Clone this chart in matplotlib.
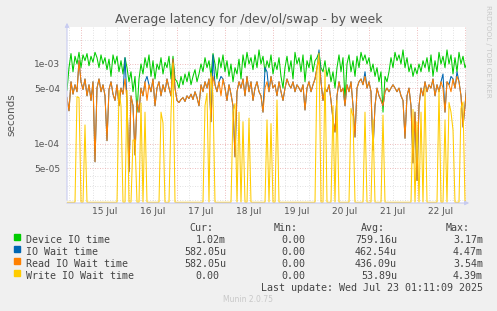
import numpy as np
import pandas as pd
import matplotlib
matplotlib.use("Agg")
import matplotlib.pyplot as plt

# hourly samples from 14 Jul 17:00, values in microseconds
start = "2025-07-14 17:00"
device_io = [
    470, 900, 1350, 800, 1250, 1000, 1400, 900, 1300, 1100,
    1350, 950, 1250, 1050, 1400, 1200, 900, 1300, 1000, 1200,
    850, 1150, 700, 1300, 1000, 1250, 800, 1100, 750, 1200,
    900, 600, 800, 450, 700, 250, 650, 1000, 750, 1200,
    900, 1300, 700, 1100, 650, 1000, 850, 1200, 750, 1050,
    900, 1250, 650, 1250, 650, 600, 500, 700, 550, 750,
    600, 800, 550, 700, 850, 600, 750, 1000, 800, 1200,
    900, 1100, 700, 1350, 1000, 650, 1200, 900, 1300, 800,
    1100, 700, 1000, 600, 900, 750, 1150, 650, 1300, 900,
    1400, 1000, 1200, 850, 1300, 900, 1500, 1000, 1250, 800,
    1100, 900, 1300, 750, 1050, 850, 1200, 700, 500, 900,
    1250, 800, 1100, 650, 1400, 1000, 1200, 800, 1300, 600,
    1100, 900, 1300, 800, 1100, 1200, 1400, 900, 800, 1100,
    700, 900, 600, 800, 500, 900, 1300, 800, 1200, 350,
    1000, 1300, 800, 1100, 700, 1250, 900, 1400, 1100, 1300,
    1000, 1200, 800, 1000, 700, 900, 600, 800, 250, 700,
    600, 800, 1200, 900, 1400, 1100, 1300, 1000, 1500, 900,
    1200, 800, 1000, 700, 900, 750, 1000, 800, 1100, 900,
    1200, 800, 1300, 700, 1100, 800, 1400, 1000, 1250, 900,
    1500, 1000, 1300, 750, 1200, 800, 1400, 1000, 1250, 900,
    1020,
]
io_wait = [
    380, 260, 600, 420, 550, 450, 1100, 600, 480, 650,
    400, 550, 350, 600, 60, 500, 650, 450, 550, 400,
    110, 480, 600, 420, 350, 550, 300, 500, 420, 1200,
    350, 45, 400, 300, 73, 350, 250, 500, 400, 600,
    700, 550, 450, 650, 300, 500, 600, 400, 550, 450,
    650, 500, 400, 1150, 500, 350, 330, 360, 380, 340,
    400, 370, 420, 360, 450, 380, 300, 550, 450, 600,
    500, 650, 190, 1300, 550, 450, 600, 700, 650, 500,
    350, 550, 420, 300, 69, 450, 600, 500, 650, 400,
    700, 450, 600, 350, 500, 600, 450, 400, 250, 900,
    800, 450, 700, 500, 550, 400, 600, 450, 350, 500,
    650, 550, 500, 600, 450, 550, 500, 450, 550, 266,
    500, 600, 450, 550, 650, 900, 1500, 600, 350, 500,
    450, 550, 350, 200, 141, 400, 600, 450, 500, 300,
    550, 450, 600, 300, 122, 500, 600, 650, 550, 800,
    500, 600, 450, 84, 300, 500, 400, 350, 300, 450,
    500, 450, 500, 550, 500, 450, 500, 400, 350, 118,
    400, 500, 300, 58, 250, 35, 300, 500, 400, 600,
    450, 550, 500, 650, 400, 550, 450, 600, 750, 250,
    600, 550, 700, 650, 500, 800, 600, 400, 163, 300,
    582,
]
read_wait = [
    380, 260, 600, 420, 550, 450, 1100, 600, 480, 650,
    400, 550, 350, 600, 60, 500, 650, 450, 550, 400,
    110, 480, 600, 420, 350, 550, 300, 500, 420, 650,
    350, 45, 400, 300, 73, 350, 250, 500, 400, 600,
    350, 550, 450, 650, 300, 500, 600, 400, 550, 450,
    650, 500, 400, 1150, 500, 350, 330, 360, 380, 340,
    400, 370, 420, 360, 450, 380, 300, 550, 450, 600,
    500, 650, 190, 700, 550, 450, 600, 400, 650, 500,
    350, 550, 420, 300, 69, 450, 600, 500, 650, 400,
    700, 450, 600, 350, 500, 600, 450, 400, 250, 500,
    600, 450, 700, 500, 550, 400, 600, 450, 350, 500,
    650, 550, 500, 600, 450, 550, 500, 450, 550, 266,
    500, 600, 450, 550, 650, 900, 1100, 600, 350, 500,
    450, 550, 350, 200, 141, 400, 600, 450, 500, 300,
    550, 450, 600, 300, 122, 500, 600, 650, 550, 700,
    500, 600, 450, 84, 300, 500, 400, 350, 300, 450,
    500, 450, 500, 550, 500, 450, 500, 400, 350, 118,
    400, 500, 300, 58, 250, 35, 300, 500, 400, 600,
    450, 550, 500, 650, 400, 550, 450, 600, 500, 250,
    600, 550, 450, 650, 500, 700, 600, 400, 163, 300,
    582,
]
write_wait = [
    0, 0, 0, 0, 0, 390, 380, 0, 0, 173,
    0, 0, 0, 0, 0, 0, 0, 0, 0, 0,
    0, 0, 0, 0, 0, 0, 470, 300, 0, 0,
    470, 0, 0, 112, 112, 0, 0, 325, 0, 250,
    0, 0, 0, 0, 0, 0, 0, 250, 183, 0,
    0, 0, 240, 1030, 0, 0, 0, 0, 0, 0,
    0, 0, 0, 0, 0, 0, 0, 0, 0, 300,
    430, 0, 770, 400, 0, 0, 0, 0, 0, 0,
    0, 0, 0, 250, 320, 0, 250, 0, 190, 0,
    0, 210, 0, 0, 0, 0, 0, 0, 0, 0,
    200, 0, 180, 0, 0, 355, 0, 0, 0, 0,
    0, 0, 0, 0, 0, 0, 0, 0, 0, 0,
    0, 0, 0, 0, 0, 890, 1370, 0, 0, 840,
    0, 0, 0, 300, 0, 350, 0, 0, 0, 0,
    0, 0, 280, 220, 0, 0, 0, 0, 0, 250,
    0, 0, 0, 200, 0, 0, 0, 0, 230, 0,
    0, 0, 0, 0, 0, 0, 0, 0, 0, 0,
    0, 0, 0, 270, 0, 190, 0, 250, 0, 500,
    0, 0, 0, 0, 0, 0, 470, 0, 0, 200,
    0, 330, 250, 150, 0, 0, 0, 280, 335, 0,
    0,
]

series_names = ["Device IO time", "IO Wait time", "Read IO Wait time", "Write IO Wait time"]
series_colors = ["#00CC00", "#0066B3", "#FF8000", "#FFCC00"]
cur_vals = ["1.02m", "582.05u", "582.05u", "0.00"]
min_vals = ["0.00", "0.00", "0.00", "0.00"]
avg_vals = ["759.16u", "462.54u", "436.09u", "53.89u"]
max_vals = ["3.17m", "4.47m", "3.54m", "4.39m"]

W, H = 497, 311
times = pd.date_range(start, periods=len(device_io), freq="h")
y_lo, y_hi = 1.83e-5, 2.9e-3

fig = plt.figure(figsize=(W / 100, H / 100), dpi=100, facecolor="#F0F0F0")
ax = fig.add_axes([67 / W, 1 - 203 / H, 399 / W, 176 / H])
ax.set_facecolor("white")
ax.set_yscale("log")
ax.set_ylim(y_lo, y_hi)
ax.set_xlim(pd.Timestamp("2025-07-14 17:00"), pd.Timestamp("2025-07-23 00:30"))
for s in ax.spines.values():
    s.set_visible(False)

# grid: red at midnight / 1 and 5 decades, grey otherwise
grid_grey = "#d8d8d8"
grid_red = "#e8a6a6"
for day in pd.date_range("2025-07-15", "2025-07-23", freq="D"):
    ax.axvline(day, color=grid_red, lw=0.6, ls=(0, (1, 2)), zorder=1)
for q in pd.date_range("2025-07-14 18:00", "2025-07-23 00:00", freq="6h"):
    if q.hour != 0:
        ax.axvline(q, color=grid_grey, lw=0.6, ls=(0, (1, 2)), zorder=1)
for dec in [1e-5, 1e-4, 1e-3]:
    for m in range(1, 10):
        v = m * dec
        if y_lo < v < y_hi:
            c = grid_red if m in (1, 5) else grid_grey
            ax.axhline(v, color=c, lw=0.6, ls=(0, (1, 2)), zorder=1)

ax.set_yticks([5e-5, 1e-4, 5e-4, 1e-3])
ax.set_yticklabels(["5e-05", "1e-04", "5e-04", "1e-03"])
ax.yaxis.set_minor_locator(matplotlib.ticker.NullLocator())
days = pd.date_range("2025-07-15 12:00", periods=8, freq="D")
ax.set_xticks(days)
ax.set_xticklabels([d.strftime("%-d %b") for d in days])
ax.tick_params(axis="both", length=0, labelsize=6.5, labelcolor="#555555")
ax.tick_params(axis="y", pad=5)
ax.tick_params(axis="x", pad=3)

floor = y_lo * 1.02
for vals, col in zip([device_io, io_wait, read_wait, write_wait], series_colors):
    arr = np.maximum(np.array(vals, dtype=float) * 1e-6, floor)
    ax.plot(times, arr, color=col, lw=0.75, zorder=3)

# axes with arrows
axis_col = "#c8ccf0"
ax.annotate("", xy=(67, H - 20), xytext=(67, H - 203), xycoords="figure pixels",
            arrowprops=dict(arrowstyle="-|>", color=axis_col, lw=0.8, mutation_scale=6))
ax.annotate("", xy=(472, H - 203), xytext=(64, H - 203), xycoords="figure pixels",
            arrowprops=dict(arrowstyle="-|>", color=axis_col, lw=0.8, mutation_scale=6))

fig.text(248.5 / W, 1 - 19 / H, "Average latency for /dev/ol/swap - by week",
         ha="center", va="center", fontsize=8.9, color="#555555")
fig.text(11 / W, 1 - 115 / H, "seconds", rotation=90, ha="center", va="center",
         fontsize=7.5, color="#555555")
fig.text(488 / W, 1 - 5 / H, "RRDTOOL / TOBI OETIKER", rotation=270, ha="center", va="top",
         fontsize=5.2, color="#c8c8c8")
fig.text(248 / W, 1 - 300 / H, "Munin 2.0.75", ha="center", va="center",
         fontsize=5.5, color="#c8c8c8")

# legend table
mono = dict(family="DejaVu Sans Mono", fontsize=7.2, color="#444444", va="baseline")
base = 231
for txt, xr in [("Cur:", 213), ("Min:", 298), ("Avg:", 385), ("Max:", 470)]:
    fig.text(xr / W, 1 - base / H, txt, ha="right", **mono)
for i, name in enumerate(series_names):
    yb = base + 12 * (i + 1)
    fig.patches.append(plt.Rectangle((14 / W, 1 - (yb - 3) / H), 6 / W, 6 / H,
                                     transform=fig.transFigure, color=series_colors[i]))
    fig.text(26 / W, 1 - yb / H, name, ha="left", **mono)
    cx = 219 if cur_vals[i] == "0.00" else 226
    fig.text(cx / W, 1 - yb / H, cur_vals[i], ha="right", **mono)
    fig.text(305 / W, 1 - yb / H, min_vals[i], ha="right", **mono)
    fig.text(397 / W, 1 - yb / H, avg_vals[i], ha="right", **mono)
    fig.text(483 / W, 1 - yb / H, max_vals[i], ha="right", **mono)
fig.text(483 / W, 1 - 291 / H, "Last update: Wed Jul 23 01:11:09 2025", ha="right", **mono)

fig.savefig("out.png", dpi=100, facecolor=fig.get_facecolor())
